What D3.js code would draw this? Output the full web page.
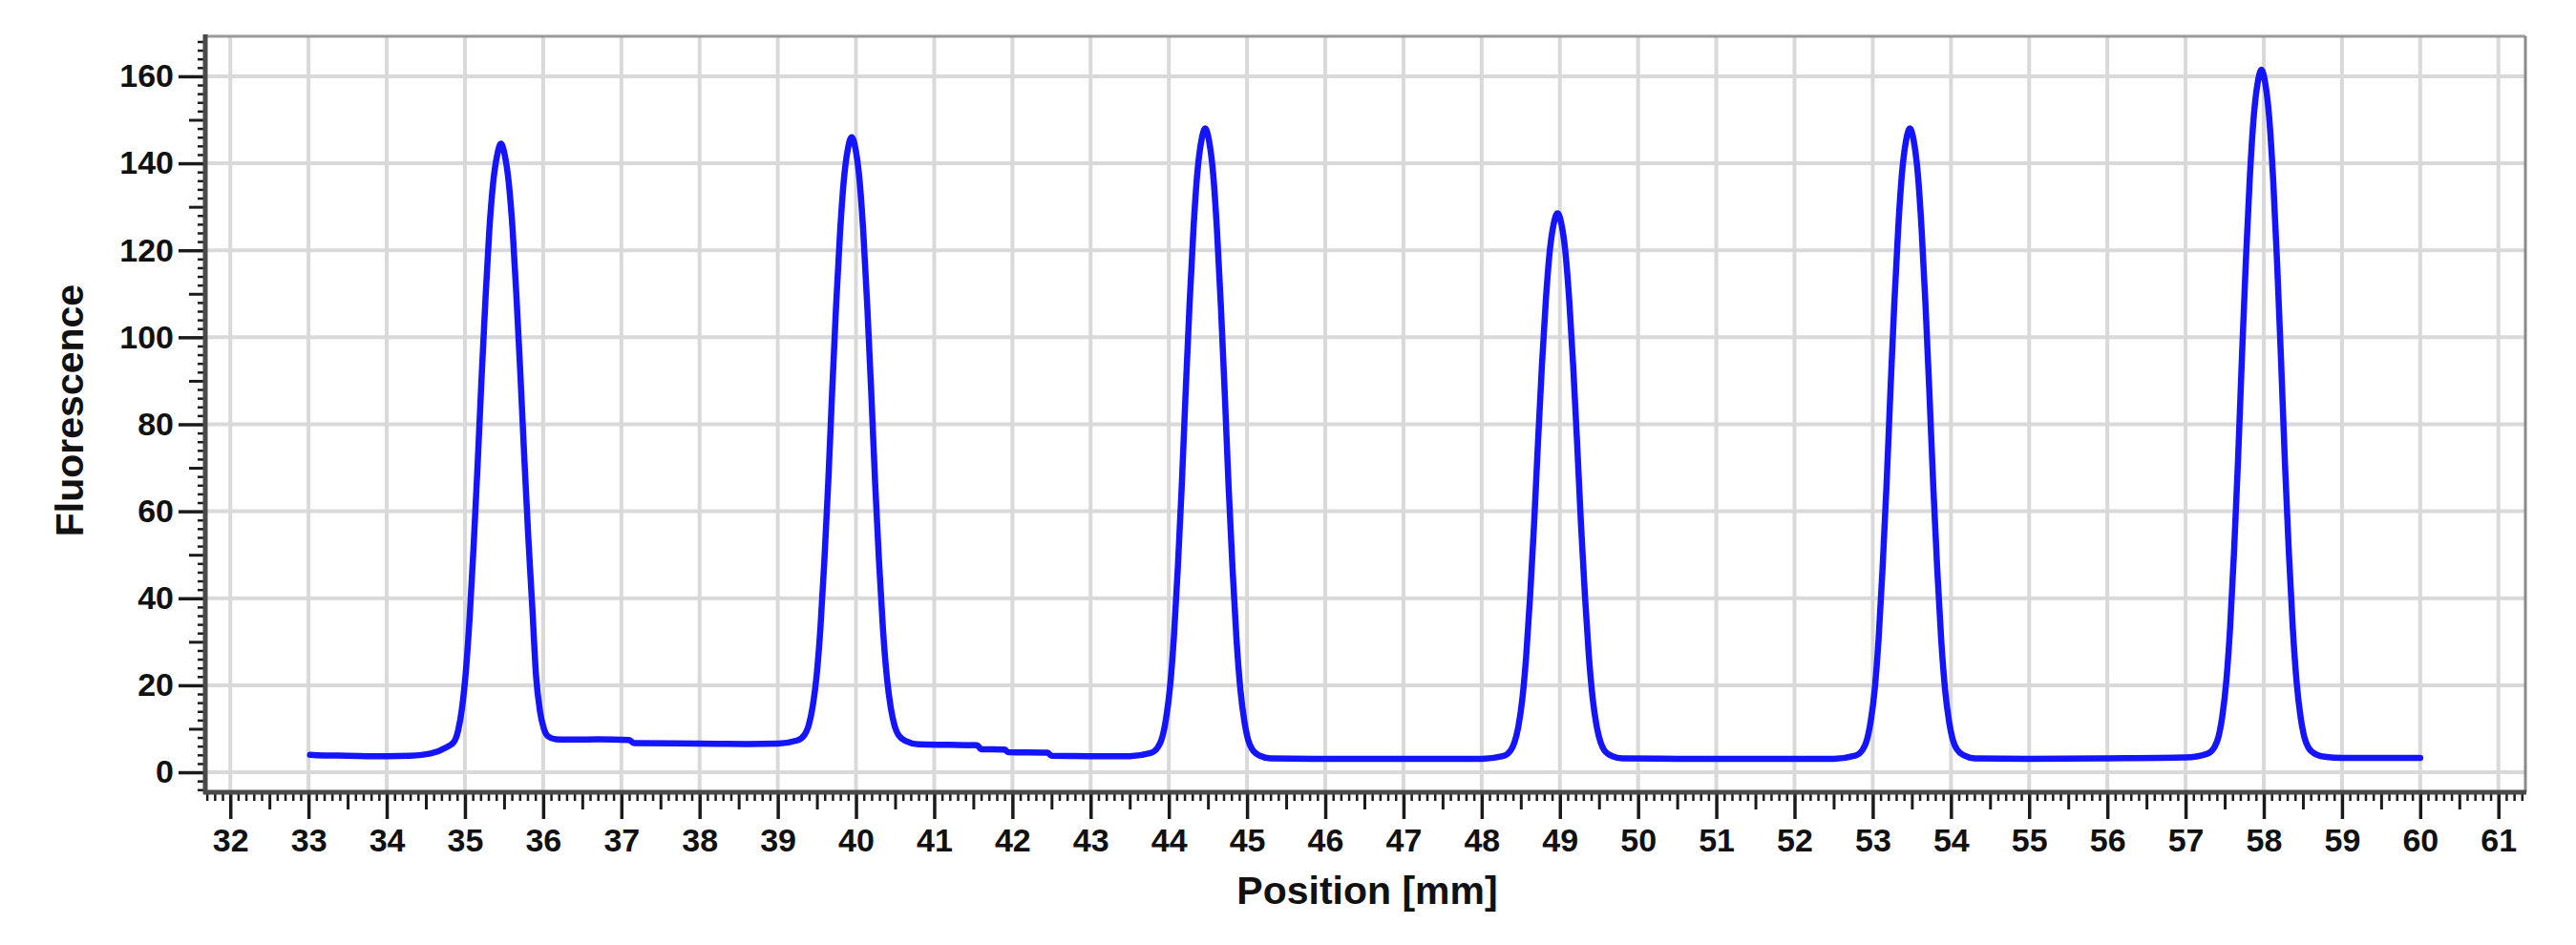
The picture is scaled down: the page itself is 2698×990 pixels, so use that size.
<!DOCTYPE html>
<html>
<head>
<meta charset="utf-8">
<script src="https://cdn.jsdelivr.net/npm/d3@7"></script>
<style>
html,body{margin:0;padding:0;background:#fff;}
svg{display:block;font-family:"Liberation Sans",Arial,sans-serif;}
</style>
</head>
<body>
<svg id="chart" width="2698" height="990"></svg>
<script>
// ---- data ----
const positionMm = [
  33.02,33.10,33.50,34.00,34.30,34.56,34.76,34.86,34.91,34.96,35.01,35.06,35.11,35.16,35.21,35.26,35.31,35.36,35.41,35.46,
  35.51,35.56,35.61,35.66,35.71,35.76,35.81,35.86,35.91,35.96,36.01,36.06,36.16,36.30,36.70,37.10,37.16,38.00,38.60,39.00,
  39.245,39.345,39.395,39.445,39.495,39.545,39.595,39.645,39.695,39.745,39.795,39.845,39.895,39.945,
  39.995,40.045,40.095,40.145,40.195,40.245,40.295,40.345,40.395,40.445,40.495,40.545,40.645,
  40.80,41.20,41.55,41.60,41.90,41.95,42.45,42.50,43.00,43.50,
  43.765,43.865,43.915,43.965,44.015,44.065,44.115,44.165,44.215,44.265,44.315,44.365,44.415,44.465,
  44.515,44.565,44.615,44.665,44.715,44.765,44.815,44.865,44.915,44.965,45.015,45.065,45.165,
  45.30,46.00,47.00,48.00,
  48.27,48.37,48.42,48.47,48.52,48.57,48.62,48.67,48.72,48.77,48.82,48.87,48.92,48.97,
  49.02,49.07,49.12,49.17,49.22,49.27,49.32,49.37,49.42,49.47,49.52,49.57,49.67,
  49.80,50.50,51.50,52.50,
  52.775,52.875,52.925,52.975,53.025,53.075,53.125,53.175,53.225,53.275,53.325,53.375,53.425,53.475,
  53.525,53.575,53.625,53.675,53.725,53.775,53.825,53.875,53.925,53.975,54.025,54.075,54.175,
  54.30,55.00,56.00,57.00,
  57.27,57.37,57.42,57.47,57.52,57.57,57.62,57.67,57.72,57.77,57.82,57.87,57.92,57.97,
  58.02,58.07,58.12,58.17,58.22,58.27,58.32,58.37,58.42,58.47,58.52,58.57,58.67,
  58.80,59.00,59.50,60.00
];
const fluorescence = [
  4.0,3.9,3.8,3.7,3.8,4.3,5.7,7.0,9.4,14.4,22.8,35.5,51.6,69.9,89.6,107.9,124.1,135.4,141.7,144.5,
  141.8,135.6,124.6,108.9,91.1,71.9,54.1,38.3,22.0,14.0,10.0,8.3,7.6,7.5,7.6,7.4,6.7,6.6,6.5,6.6,
  7.3,8.7,10.8,15,21.9,33.1,48.4,66.5,87.5,107,123.7,136.2,143.2,146,
  143.2,136.2,123.7,106.9,87.4,66.4,48.3,32.9,21.8,14.8,10.6,8.5,7.1,
  6.4,6.3,6.2,5.3,5.2,4.6,4.5,3.8,3.7,3.7,
  4.4,5.9,8.0,12.4,19.6,31.1,47,65.7,87.4,107.6,124.9,137.9,145.1,148,
  145.1,137.9,124.8,107.4,87.1,65.4,46.6,30.6,19,11.8,7.4,5.3,3.8,
  3.2,3.1,3.1,3.1,
  3.7,5.0,6.9,10.6,16.9,26.9,40.7,57,75.8,93.4,108.4,119.7,126,128.5,
  126,119.7,108.4,93.4,75.8,57,40.7,26.9,16.9,10.6,6.9,5.0,3.7,
  3.2,3.1,3.1,3.1,
  3.8,5.3,7.4,11.8,19,30.6,46.6,65.4,87.1,107.4,124.8,137.9,145.1,148,
  145.1,137.9,124.8,107.4,87.1,65.4,46.6,30.6,19,11.8,7.4,5.3,3.8,
  3.2,3.1,3.2,3.4,
  4.2,5.8,8.1,12.9,20.8,33.4,50.8,71.4,95.1,117.2,136.2,150.4,158.3,161.5,
  158.3,150.4,136.2,117.2,95.1,71.3,50.8,33.4,20.7,12.8,8.0,5.7,4.1,
  3.5,3.3,3.3,3.3
];
const xTickLabels = [32,33,34,35,36,37,38,39,40,41,42,43,44,45,46,47,48,49,50,51,52,53,54,55,56,57,58,59,60,61];
const yTickLabels = [0,20,40,60,80,100,120,140,160];
const xTitle = "Position [mm]";
const yTitle = "Fluorescence";

// ---- layout ----
const W = 2698, H = 990;
const plotL = 215, plotR = 2645, plotT = 38, plotB = 830;

const svg = d3.select("#chart");
svg.append("rect").attr("width", W).attr("height", H).attr("fill", "#fff");

const x = d3.scaleLinear().domain([31.68, 61.345]).range([plotL, plotR]);
const y = d3.scaleLinear().domain([-4.6, 169.2]).range([plotB, plotT]);

// grid
const grid = svg.append("g");
grid.selectAll("line.v").data(xTickLabels).join("line").attr("class", "v")
  .attr("x1", d => x(d)).attr("x2", d => x(d))
  .attr("y1", plotT).attr("y2", plotB)
  .attr("stroke", "#d9d9d9").attr("stroke-width", 4);
grid.selectAll("line.h").data(yTickLabels).join("line").attr("class", "h")
  .attr("x1", plotL).attr("x2", plotR)
  .attr("y1", d => y(d)).attr("y2", d => y(d))
  .attr("stroke", "#d9d9d9").attr("stroke-width", 4);

// frame (top/right)
svg.append("line").attr("x1", plotL).attr("x2", plotR).attr("y1", plotT).attr("y2", plotT)
  .attr("stroke", "#9a9a9a").attr("stroke-width", 3);
svg.append("line").attr("x1", plotR).attr("x2", plotR).attr("y1", plotT).attr("y2", plotB)
  .attr("stroke", "#8a8a8a").attr("stroke-width", 3);

// data line
const line = d3.line()
  .x((d, i) => x(positionMm[i]))
  .y((d, i) => y(fluorescence[i]))
  .curve(d3.curveMonotoneX);
svg.append("path")
  .datum(positionMm)
  .attr("d", line)
  .attr("fill", "none")
  .attr("stroke", "#1414ff")
  .attr("stroke-width", 6.5)
  .attr("stroke-linejoin", "round")
  .attr("stroke-linecap", "round");

function styleAxis(g, w) {
  g.select(".domain").remove();
  g.selectAll(".tick line").attr("stroke", "#1a1a1a").attr("stroke-width", w);
}

// y axis minor/medium/major
const yMinor = d3.range(-4, 170, 2).filter(v => v % 10 !== 0);
const yMedium = [10,30,50,70,90,110,130,150];
svg.append("g").attr("transform", `translate(${plotL},0)`)
  .call(d3.axisLeft(y).tickValues(yMinor).tickSize(8).tickFormat(""))
  .call(g => styleAxis(g, 2.5));
svg.append("g").attr("transform", `translate(${plotL},0)`)
  .call(d3.axisLeft(y).tickValues(yMedium).tickSize(17).tickFormat(""))
  .call(g => styleAxis(g, 3));
svg.append("g").attr("transform", `translate(${plotL},0)`)
  .call(d3.axisLeft(y).tickValues(yTickLabels).tickSize(28).tickPadding(5).tickFormat(d3.format("d")))
  .call(g => styleAxis(g, 3.5))
  .call(g => g.selectAll("text").attr("font-size", 34).attr("font-weight", "bold").attr("fill", "#111")
    .attr("font-family", '"Liberation Sans",Arial,sans-serif'));

// x axis minor/medium/major
const xMinor = d3.range(317, 614).map(v => v / 10).filter(v => Math.abs(v * 2 - Math.round(v * 2)) > 1e-6);
const xMedium = d3.range(32, 61).map(v => v + 0.5);
svg.append("g").attr("transform", `translate(0,${plotB})`)
  .call(d3.axisBottom(x).tickValues(xMinor).tickSize(9).tickFormat(""))
  .call(g => styleAxis(g, 2.5));
svg.append("g").attr("transform", `translate(0,${plotB})`)
  .call(d3.axisBottom(x).tickValues(xMedium).tickSize(18).tickFormat(""))
  .call(g => styleAxis(g, 3));
svg.append("g").attr("transform", `translate(0,${plotB})`)
  .call(d3.axisBottom(x).tickValues(xTickLabels).tickSize(28).tickPadding(10).tickFormat(d3.format("d")))
  .call(g => styleAxis(g, 3.5))
  .call(g => g.selectAll("text").attr("font-size", 34).attr("font-weight", "bold").attr("fill", "#111")
    .attr("font-family", '"Liberation Sans",Arial,sans-serif'));

// axis lines
svg.append("line").attr("x1", plotL).attr("x2", plotL).attr("y1", plotT - 2).attr("y2", plotB + 2)
  .attr("stroke", "#4a4a4a").attr("stroke-width", 5);
svg.append("line").attr("x1", plotL - 2).attr("x2", plotR + 1).attr("y1", plotB).attr("y2", plotB)
  .attr("stroke", "#4a4a4a").attr("stroke-width", 5);

// titles
svg.append("text").attr("x", 1432).attr("y", 947).attr("text-anchor", "middle")
  .attr("font-size", 41).attr("font-weight", "bold").attr("fill", "#111").text(xTitle);
svg.append("text").attr("transform", "translate(87,430) rotate(-90)").attr("text-anchor", "middle")
  .attr("font-size", 41).attr("font-weight", "bold").attr("fill", "#111").text(yTitle);
</script>
</body>
</html>
